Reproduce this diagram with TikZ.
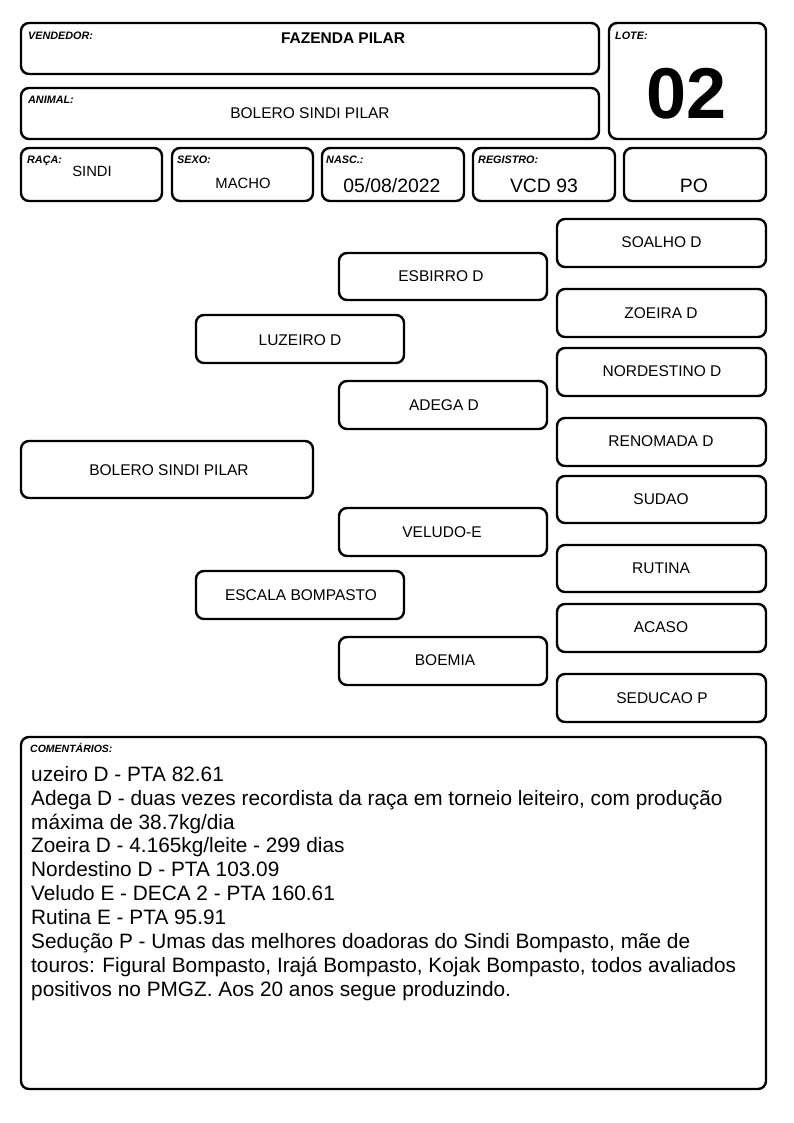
\documentclass[tikz,border=0pt]{standalone}
\usepackage{fontspec}
\setmainfont{Liberation Sans}
\begin{document}
\begin{tikzpicture}[x=1pt,y=-1pt,
  box/.style={draw=black, line width=2.4pt, rounded corners=8pt, inner sep=0pt, fill=white},
  lbl/.style={anchor=base west, inner sep=0pt, font=\fontsize{10.8}{12}\selectfont\bfseries\itshape},
  val/.style={anchor=base, inner sep=0pt, font=\fontsize{15.5}{18}\selectfont},
  big/.style={anchor=base, inner sep=0pt, font=\fontsize{19.4}{22}\selectfont},
  cmline/.style={anchor=base west, inner sep=0pt, font=\fontsize{20.8}{24}\selectfont}]
\newcommand\bx[5]{\node[box, minimum width={(#4-#2)*1pt}, minimum height={(#5-#3)*1pt}] (#1) at ({(#2+#4)/2},{(#3+#5)/2}) {};}
\useasboundingbox[fill=white] (0,0) rectangle (794,1123);
% header
\bx{vend}{21}{23}{599}{74}
\node[lbl] (vendl) at (28,40) {VENDEDOR:};
\node[val, font=\fontsize{15.5}{18}\selectfont\bfseries] (vendv) at (343,43.5) {FAZENDA PILAR};
\bx{anim}{21}{88}{599}{139}
\node[lbl] (animl) at (28,104) {ANIMAL:};
\node[val] (animv) at (310,118.5) {BOLERO SINDI PILAR};
\bx{lote}{609}{23}{766}{139}
\node[lbl] (lotel) at (615,40) {LOTE:};
\node[anchor=base, inner sep=0pt, font=\fontsize{72}{80}\selectfont\bfseries] (lotev) at (687,119) {02};
\bx{raca}{21}{148}{162}{201}
\node[lbl] (racal) at (27,164) {RAÇA:};
\node[val, font=\fontsize{14.8}{17}\selectfont] (racav) at (92,177) {SINDI};
\bx{sexo}{172}{148}{313}{201}
\node[lbl] (sexol) at (177,164) {SEXO:};
\node[val, font=\fontsize{14.8}{17}\selectfont] (sexov) at (243,189) {MACHO};
\bx{nasc}{322}{148}{464}{201}
\node[lbl] (nascl) at (326,164) {NASC.:};
\node[big] (nascv) at (392,192.5) {05/08/2022};
\bx{reg}{473}{148}{615}{201}
\node[lbl] (regl) at (478,164) {REGISTRO:};
\node[big] (regv) at (544,192.5) {VCD 93};
\bx{po}{624}{148}{766}{201}
\node[big] (pov) at (694,192.5) {PO};
% pedigree
\bx{soalho}{557}{219}{766}{267}
\node[val] (soalhot) at (661.5,247.5) {SOALHO D};
\bx{esbirro}{339}{253}{547}{300}
\node[val] (esbirrot) at (441,281.5) {ESBIRRO D};
\bx{zoeira}{557}{289}{766}{337}
\node[val] (zoeirat) at (661,318.5) {ZOEIRA D};
\bx{luzeiro}{196}{315}{404}{363}
\node[val] (luzeirot) at (300,345.5) {LUZEIRO D};
\bx{nordestino}{557}{348}{766}{396}
\node[val] (nordestinot) at (662,376.5) {NORDESTINO D};
\bx{adega}{339}{381}{547}{429}
\node[val] (adegat) at (444,410.5) {ADEGA D};
\bx{renomada}{557}{418}{766}{466}
\node[val] (renomadat) at (661,446.5) {RENOMADA D};
\bx{bolero}{21}{441}{313}{498}
\node[val] (bolerot) at (169,475.5) {BOLERO SINDI PILAR};
\bx{sudao}{557}{476}{766}{523}
\node[val] (sudaot) at (661,504.5) {SUDAO};
\bx{veludo}{339}{508}{547}{556}
\node[val] (veludot) at (442,537.5) {VELUDO-E};
\bx{rutina}{557}{545}{766}{592}
\node[val] (rutinat) at (661,573.5) {RUTINA};
\bx{escala}{196}{571}{404}{619}
\node[val] (escalat) at (301,600.5) {ESCALA BOMPASTO};
\bx{acaso}{557}{604}{766}{652}
\node[val] (acasot) at (661,632.5) {ACASO};
\bx{boemia}{339}{637}{547}{685}
\node[val] (boemiat) at (445,665.5) {BOEMIA};
\bx{seducao}{557}{674}{766}{722}
\node[val] (seducaot) at (662,703.5) {SEDUCAO P};
% comments
\bx{coment}{21}{737}{766}{1089}
\node[lbl, font=\fontsize{10.5}{12}\selectfont\bfseries\itshape] (comentl) at (30,752) {COMENTÁRIOS:};
\node[cmline] (c1) at (31,781) {uzeiro D - PTA 82.61};
\node[cmline] (c2) at (31,805) {Adega D - duas vezes recordista da raça em torneio leiteiro, com produção};
\node[cmline] (c3) at (31,829) {máxima de 38.7kg/dia};
\node[cmline] (c4) at (31,852.5) {Zoeira D - 4.165kg/leite - 299 dias};
\node[cmline] (c5) at (31,876.5) {Nordestino D - PTA 103.09};
\node[cmline] (c6) at (31,900.5) {Veludo E - DECA 2 - PTA 160.61};
\node[cmline] (c7) at (31,924.5) {Rutina E - PTA 95.91};
\node[cmline] (c8) at (31,948) {Sedução P - Umas das melhores doadoras do Sindi Bompasto, mãe de};
\node[cmline] (c9) at (31,972) {touros: Figural Bompasto, Irajá Bompasto, Kojak Bompasto, todos avaliados};
\node[cmline] (c10) at (31,996) {positivos no PMGZ. Aos 20 anos segue produzindo.};
\end{tikzpicture}
\end{document}
